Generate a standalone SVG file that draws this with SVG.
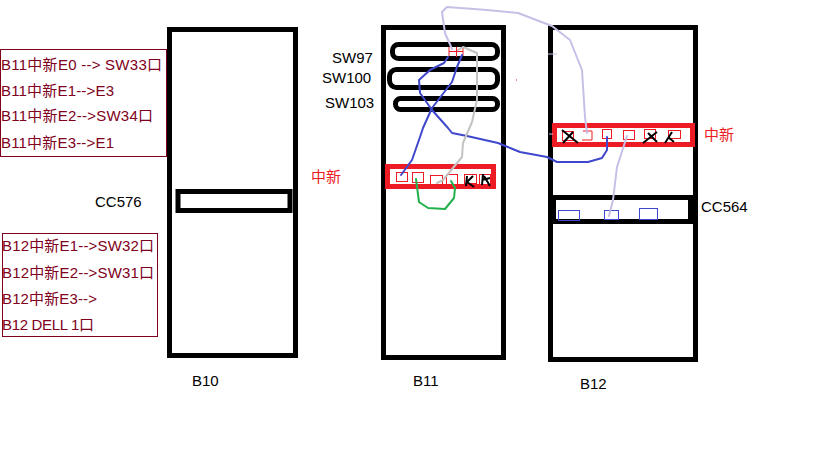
<svg xmlns="http://www.w3.org/2000/svg" width="819" height="460" viewBox="0 0 819 460">
<style>
text{font-family:"Liberation Sans","Noto Sans CJK SC",sans-serif;font-size:15px;fill:#000}
.note{fill:#800020}
.r{fill:#fff;stroke:#000;stroke-width:5}
.rr{fill:none;stroke:#000;stroke-width:5}
.box{fill:none;stroke:#800020;stroke-width:1}
.band{fill:#fff;stroke:#ed1c24;stroke-width:5}
.p{fill:none;stroke:#ed1c24;stroke-width:1}
.bp{fill:none;stroke:#3f48cc;stroke-width:1}
.w{fill:none;stroke-linecap:round;stroke-linejoin:round;stroke-width:2}
.blue{stroke:#3f48cc}
.gray{stroke:#c3c3c3}
.lav{stroke:#c8bfe7}
.green{stroke:#22b14c}
.x{fill:none;stroke:#000;stroke-width:2}
</style>
<rect width="819" height="460" fill="#fff"/>
<g id="B10">
<rect class="r" x="169.500" y="29.500" width="126" height="326"/>
<rect class="r" x="178" y="191.500" width="112" height="19"/>
<text x="95" y="207">CC576</text>
<text x="192" y="386">B10</text>
<text x="311" y="182" style="fill:#ed1c24">中新</text>
</g>
<g id="B11">
<rect class="r" x="383.500" y="27.500" width="120" height="330"/>
<rect class="rr" x="392.500" y="44.500" width="105" height="14" rx="6"/>
<rect class="rr" x="389.500" y="69.500" width="108" height="18" rx="7"/>
<rect class="rr" x="395.500" y="98.500" width="102" height="11" rx="5"/>
<rect class="band" x="387.500" y="166.500" width="106" height="20"/>
<rect class="p" x="396.500" y="172.500" width="11" height="9"/>
<rect class="p" x="412.500" y="172.500" width="11" height="10"/>
<rect class="p" x="430.500" y="175.500" width="12" height="9"/>
<rect class="p" x="446.500" y="174.500" width="11" height="10"/>
<rect class="p" x="464.500" y="174.500" width="12" height="9"/>
<rect class="p" x="479.500" y="174.500" width="11" height="10"/>
<path class="x" d="M467 176L466 186M467 182L474 187M473 176L467 182"/>
<path class="x" d="M483 174L482 185M482 180L490 178M484 176L490 186"/>
<path class="p" d="M449 47V56M456.500 47V57M463 47V56M449 51.500H463"/>
<text x="332" y="63">SW97</text>
<text x="322" y="83">SW100</text>
<text x="325" y="108">SW103</text>
<text x="413" y="386">B11</text>
</g>
<g id="B12">
<rect class="r" x="550.500" y="27.500" width="145" height="332"/>
<rect class="band" x="554.500" y="125.500" width="138" height="19"/>
<rect class="p" x="562.500" y="131.500" width="11" height="9"/>
<path class="p" d="M583 131H592V140H582"/>
<rect class="p" x="602.500" y="129.500" width="9" height="9"/>
<rect class="p" x="623.500" y="130.500" width="11" height="9"/>
<rect class="p" x="644.500" y="129.500" width="11" height="9"/>
<rect class="p" x="668.500" y="130.500" width="12" height="8"/>
<path class="x" d="M562 130L578 143M573 132L563 143M657 132L643 143M648 133L657 142M672 132L665 143M668 137L674 142"/>
<rect class="r" x="553.500" y="197.500" width="137" height="24"/>
<rect class="bp" x="558.500" y="210.500" width="21" height="10"/>
<rect class="bp" x="604.500" y="210.500" width="14" height="9"/>
<rect class="bp" x="639.500" y="208.500" width="18" height="11"/>
<text x="701" y="212">CC564</text>
<text x="704" y="140" style="fill:#ed1c24">中新</text>
<text x="580" y="389">B12</text>
</g>
<g id="notes-b11">
<rect class="box" x="0.500" y="49.500" width="166" height="107"/>
<text class="note" x="1" y="70" textLength="161">B11中新E0 --&gt; SW33口</text>
<text class="note" x="1" y="96" textLength="113">B11中新E1--&gt;E3</text>
<text class="note" x="1" y="121" textLength="152">B11中新E2--&gt;SW34口</text>
<text class="note" x="1" y="148" textLength="113">B11中新E3--&gt;E1</text>
</g>
<g id="notes-b12">
<rect class="box" x="2.500" y="233.500" width="155" height="103"/>
<text class="note" x="2" y="251" textLength="152">B12中新E1--&gt;SW32口</text>
<text class="note" x="2" y="278" textLength="152">B12中新E2--&gt;SW31口</text>
<text class="note" x="2" y="304" textLength="95">B12中新E3--&gt;</text>
<text class="note" x="2" y="330" textLength="92">B12 DELL 1口</text>
</g>
<g id="connectors">
<path class="w blue" d="M448 57L444 63L430 70L419 80L420 93L432 110L448 128L452 133L467 136L498 143L520 152L547 157L557 162L588 162L602 158L607 150L607 137"/>
<path class="w blue" d="M462 55L457 67L452 82L432 108L423 128L420 137L412 160L401 175"/>
<path class="w gray" d="M458 50L463 47L477 53L477 100L472 122L463 143L462 157L443 180L437 183"/>
<path class="w lav" d="M452 49L445 33L442 12L447 7L487 10L518 13L552 26L570 40L582 70L585 117L587 133"/>
<path class="w lav" d="M627 136L617 167L613 200L609 216"/>
<path class="w green" d="M416 179L419 202L428 208L445 209L454 198L455 188L451 181"/>
<path class="lav" style="fill:none;stroke-width:1" d="M548 54H557M549 134H553"/>
<path d="M516 80h1" style="fill:none;stroke:#ed1c24;stroke-width:1"/>
</g>
</svg>
